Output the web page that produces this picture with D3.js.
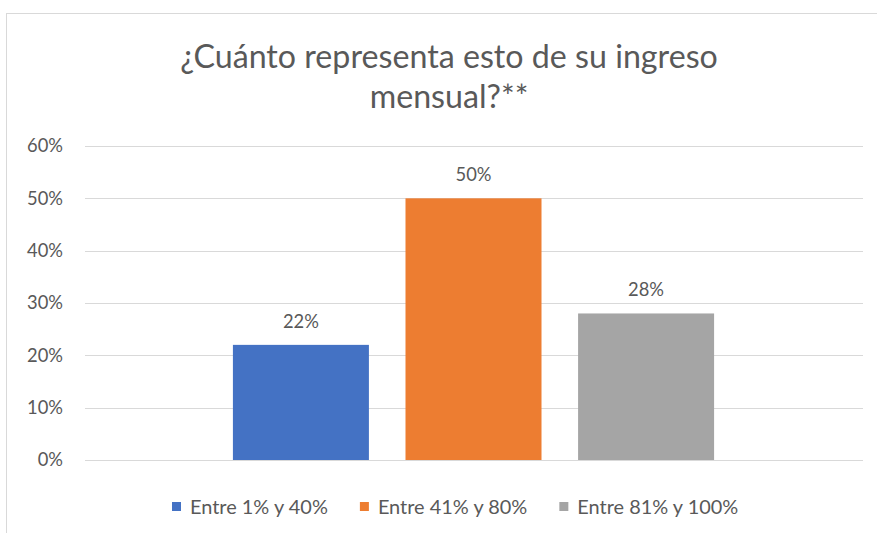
<!DOCTYPE html>
<html>
<head>
<meta charset="utf-8">
<script src="https://cdn.jsdelivr.net/npm/d3@7"></script>
<style>
html,body{margin:0;padding:0;background:#fff;}
svg{display:block;}
text{font-family:Lato,"Open Sans",sans-serif;}
</style>
</head>
<body>
<svg id="chart" width="877" height="533"></svg>
<script>
const titleLines = ["¿Cuánto representa esto de su ingreso", "mensual?**"];
const seriesNames = ["Entre 1% y 40%", "Entre 41% y 80%", "Entre 81% y 100%"];
const seriesValues = [0.22, 0.50, 0.28];
const seriesColors = ["#4472C4", "#ED7D31", "#A5A5A5"];
const yTicks = [0, 0.1, 0.2, 0.3, 0.4, 0.5, 0.6];

const svg = d3.select("#chart");
const textColor = "#595959";
const gridColor = "#D9D9D9";

// chart border (extends beyond the visible area)
svg.append("rect").attr("x", 6.5).attr("y", 13.5).attr("width", 1000).attr("height", 1000)
  .attr("fill", "#fff").attr("stroke", gridColor).attr("stroke-width", 1);

function fit(sel, target) {
  const w = sel.node().getComputedTextLength();
  const fs = parseFloat(sel.attr("font-size"));
  sel.attr("font-size", fs * target / w);
}

// Title
const t1 = svg.append("text").attr("x", 449).attr("y", 68).attr("text-anchor", "middle")
  .attr("font-size", 30).attr("fill", textColor).text(titleLines[0]);
fit(t1, 538);
const tfs = t1.attr("font-size");
svg.append("text").attr("x", 449).attr("y", 108).attr("text-anchor", "middle")
  .attr("font-size", tfs).attr("fill", textColor).text(titleLines[1]);

// Scales
const x = d3.scaleBand().domain(seriesNames).range([85, 862]).paddingInner(0.212).paddingOuter(0.857);
const y = d3.scaleLinear().domain([0, 0.6]).range([460, 146]);

// Gridlines
svg.append("g").selectAll("line").data(yTicks).join("line")
  .attr("x1", 85).attr("x2", 863)
  .attr("y1", d => Math.round(y(d)) + 0.5).attr("y2", d => Math.round(y(d)) + 0.5)
  .attr("stroke", gridColor).attr("stroke-width", 1.2);

// Y axis labels
const yAxis = d3.axisLeft(y).tickValues(yTicks).tickFormat(d3.format(".0%")).tickSize(0).tickPadding(0);
const yg = svg.append("g").attr("transform", "translate(63,0)").call(yAxis);
yg.select(".domain").remove();
yg.selectAll("text").attr("fill", textColor).attr("font-size", 15).attr("font-family", "Lato,'Open Sans',sans-serif");
const sample = yg.selectAll("text").filter(d => d === 0.6);
const sw = sample.node().getComputedTextLength();
const labelFs = 15 * 36 / sw;
yg.selectAll("text").attr("font-size", labelFs);

// Bars
svg.append("g").selectAll("rect").data(seriesNames).join("rect")
  .attr("x", d => x(d)).attr("width", x.bandwidth())
  .attr("y", (d, i) => y(seriesValues[i]))
  .attr("height", (d, i) => y(0) - y(seriesValues[i]))
  .attr("fill", (d, i) => seriesColors[i]);

// Data labels
svg.append("g").selectAll("text").data(seriesNames).join("text")
  .attr("x", d => x(d) + x.bandwidth() / 2)
  .attr("y", (d, i) => y(seriesValues[i]) - 17)
  .attr("text-anchor", "middle").attr("font-size", labelFs).attr("fill", textColor)
  .text((d, i) => d3.format(".0%")(seriesValues[i]));

// Legend
const lg = svg.append("g");
let lx = 172;
const legendTargets = [138, 148, 159];
let legendFs = null;
seriesNames.forEach((name, i) => {
  lg.append("rect").attr("x", lx).attr("y", 502).attr("width", 9).attr("height", 9).attr("fill", seriesColors[i]);
  const tx = lg.append("text").attr("x", lx + 18).attr("y", 507).attr("dy", "0.35em")
    .attr("font-size", 16).attr("fill", textColor).text(name);
  if (legendFs === null) { fit(tx, legendTargets[0]); legendFs = tx.attr("font-size"); }
  tx.attr("font-size", legendFs);
  lx += 18 + tx.node().getComputedTextLength() + 32;
});
</script>
</body>
</html>
